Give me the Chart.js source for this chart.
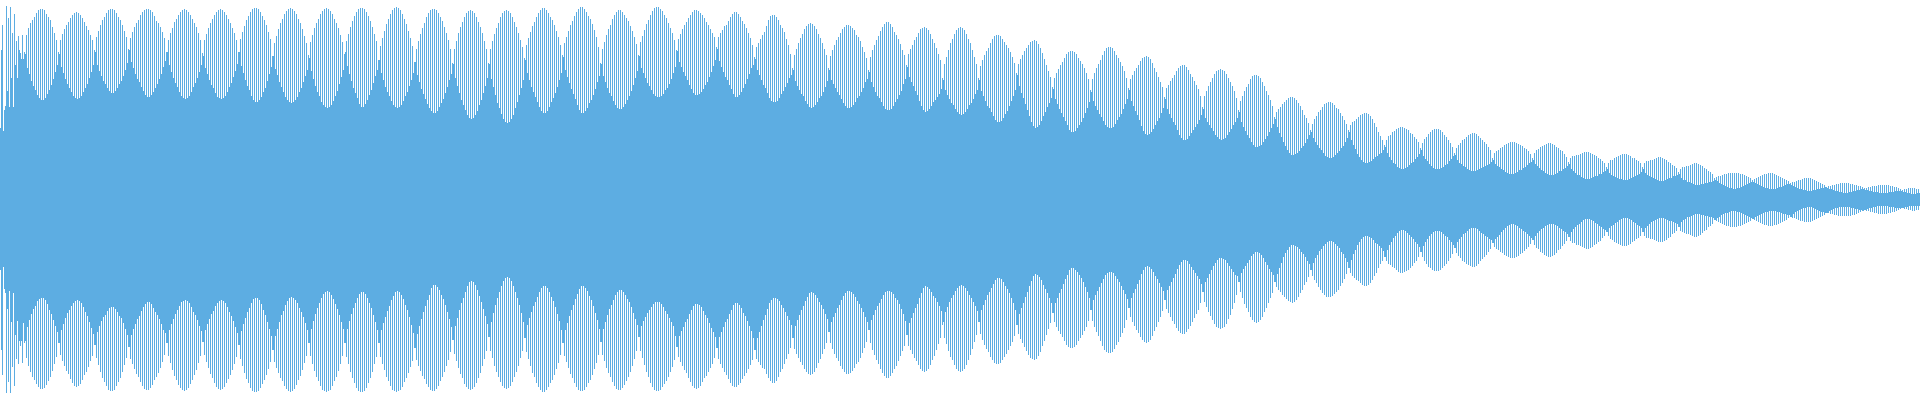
<!DOCTYPE html>
<html>
<head>
<meta charset="utf-8">
<style>html,body{margin:0;padding:0;background:#fff}canvas{display:block}</style>
<script src="https://cdn.jsdelivr.net/npm/chart.js@4"></script>
</head>
<body>
<canvas id="c" width="1920" height="400"></canvas>
<script>
const upperPeaks=[72,175,90,194,182,193,167,186,159,164,147,165,
148,165,172,177,180,183,187,190,191,191,190,186,183,180,173,167,160,
148,160,166,171,175,178,182,185,187,188,187,185,182,178,174,170,165,160,
150,163,169,175,180,183,187,190,191,191,190,187,183,180,175,169,163,
151,162,168,173,177,180,185,188,190,191,191,190,188,184,179,177,173,168,162,
148,160,167,172,178,181,185,188,190,191,190,188,185,181,177,173,167,160,
147,160,166,172,177,181,185,188,190,191,190,188,185,181,177,172,167,160,
148,161,168,174,180,184,188,191,192,192,191,188,184,180,175,168,161,
144,157,164,171,177,181,186,189,191,192,191,189,186,181,177,171,164,157,
145,158,165,172,177,181,186,189,191,192,191,189,186,181,177,172,165,158,
146,159,166,173,179,184,188,191,192,192,191,188,184,179,173,166,159,
140,154,162,169,176,181,186,190,192,193,192,190,186,181,176,169,162,154,
138,151,159,166,172,177,183,187,190,191,191,190,187,183,179,173,167,160,151,
137,151,159,167,173,178,183,187,189,190,189,187,183,178,173,167,159,151,
137,151,159,166,172,177,183,187,189,190,189,187,183,178,173,167,160,153,
142,155,162,168,174,178,183,187,190,192,192,190,187,183,180,175,169,163,155,
145,157,163,169,175,179,184,188,191,193,193,191,188,184,181,176,170,163,153,
137,151,158,165,171,175,181,185,188,190,190,188,185,182,179,174,169,163,156,
145,158,164,170,176,180,185,189,192,193,193,191,189,185,182,177,172,167,160,
150,161,166,171,175,178,182,185,188,190,190,189,187,185,182,178,175,171,167,163,
153,163,167,170,174,175,179,183,186,188,188,186,183,179,176,172,167,162,155,
143,153,157,161,165,168,174,180,184,185,185,183,180,175,172,168,161,155,146,
132,145,151,157,162,166,171,174,176,177,176,174,171,166,162,157,151,145,
132,144,150,155,160,163,167,171,173,175,175,174,172,170,165,163,159,153,148,142,
130,143,150,155,160,164,169,173,176,178,178,176,173,168,165,161,156,150,145,
135,146,151,155,160,163,167,171,172,173,172,170,166,161,157,152,146,140,
122,136,143,150,157,161,166,170,172,173,172,170,166,161,157,150,143,136,
122,134,140,145,149,152,157,161,164,165,165,164,161,158,155,152,148,143,137,
127,136,141,145,149,152,155,158,159,160,159,156,152,147,141,135,129,123,
113,122,127,131,135,138,142,146,148,149,149,148,146,142,139,136,132,127,121,
110,121,127,132,136,140,145,149,152,153,153,152,149,145,142,138,134,129,122,
112,121,125,129,132,135,139,142,143,144,143,141,137,132,128,123,118,113,
103,112,115,119,122,125,129,132,134,135,135,133,130,126,123,119,115,111,104,
93,104,109,114,118,122,126,129,130,131,130,129,126,122,118,114,109,102,
90,99,104,109,113,116,121,124,125,125,124,122,118,114,109,105,100,94,
83,88,91,93,96,98,100,102,103,103,102,100,97,94,90,85,82,77,
70,76,81,84,88,90,93,96,97,98,98,97,95,92,91,87,84,80,76,
70,75,78,79,81,83,85,86,87,87,86,84,81,77,73,68,64,60,
55,60,64,65,68,69,71,72,73,73,72,71,70,67,66,63,61,58,
52,57,61,63,66,68,70,71,71,71,70,68,65,63,60,57,53,
47,52,55,57,60,61,63,65,66,67,67,66,64,62,60,58,56,53,50,
42,47,49,50,52,53,55,56,57,58,58,58,57,56,55,54,52,51,49,46,
42,47,50,51,53,54,55,56,57,57,56,55,53,52,50,49,46,43,
38,42,44,44,45,45,46,47,48,48,48,47,46,45,44,42,41,39,37,
33,37,40,40,42,43,44,45,46,46,46,45,44,42,42,40,39,37,
33,37,39,39,40,40,41,42,43,43,42,41,40,38,37,35,34,32,
28,31,33,33,34,34,35,36,37,37,36,35,34,32,31,29,28,26,
22,23,24,24,25,26,26,27,27,27,27,27,27,26,26,25,24,23,22,
20,21,22,23,24,25,26,26,27,27,27,26,25,24,23,22,21,20,19,
17,18,18,19,20,20,21,22,22,22,22,21,20,19,18,17,16,15,
13,14,14,15,15,16,16,17,17,17,17,17,16,16,15,15,14,14,13,
12,12,13,13,14,14,14,15,15,15,15,15,15,14,14,13,13,12,11,
10,11,11,12,12,12,12,11,11,11,11,11,11];

const upperTroughs=[150,69,94,109,93,122,93,135,122,150,141,141,
146,132,126,119,114,110,105,102,100,100,102,106,110,115,121,128,135,
146,133,127,121,116,112,108,104,102,101,102,104,108,112,116,122,128,135,
148,135,129,124,119,116,112,109,107,107,109,112,116,119,124,130,137,
150,138,132,126,121,118,113,109,105,103,103,105,108,112,116,121,126,133,139,
148,135,128,122,117,113,108,104,102,101,102,104,108,113,117,122,128,135,
144,132,126,120,115,112,107,103,102,101,102,104,108,113,117,123,129,136,
148,134,127,120,114,110,104,100,98,98,100,103,108,112,119,126,133,
144,131,125,118,113,108,103,100,98,97,98,100,103,108,112,118,124,130,
142,129,121,114,108,104,98,95,93,92,93,95,99,104,109,116,123,130,
148,134,126,119,112,107,102,96,93,93,96,100,105,110,117,124,130,
140,127,120,113,108,104,99,95,93,92,93,95,99,104,108,114,120,127,
138,125,118,111,106,101,96,92,89,87,87,89,93,97,101,107,113,120,126,
136,122,114,107,100,95,90,85,82,81,82,85,89,95,100,107,114,122,
136,121,113,105,97,92,86,81,78,77,78,81,85,92,98,105,112,120,
140,127,120,113,108,103,98,93,89,87,87,89,93,98,102,107,113,120,127,
143,130,123,117,111,106,101,95,90,87,87,89,92,97,100,105,111,118,124,
136,124,118,112,107,104,99,95,92,91,91,93,96,100,104,109,115,122,129,
144,132,127,122,117,114,110,106,104,103,103,104,106,110,112,116,121,127,133,
149,138,133,128,124,120,115,111,107,105,105,106,108,111,115,118,123,128,134,140,
151,139,133,128,123,120,115,111,106,103,103,105,108,112,116,121,126,132,135,
141,130,125,120,115,112,107,102,99,98,98,99,102,106,109,113,117,122,125,
130,119,114,110,106,104,99,96,93,92,93,95,98,102,104,108,113,119,
130,120,116,112,108,105,101,97,94,92,92,93,95,98,102,104,108,112,118,121,
128,118,113,108,104,102,98,94,91,90,90,91,94,98,101,105,109,116,121,
133,123,118,114,109,105,99,94,90,88,89,91,94,98,100,103,106,111,
120,110,105,101,97,95,91,88,86,85,86,88,91,95,97,101,106,110,
120,109,104,99,94,92,88,84,80,78,78,79,82,86,89,94,99,104,110,
125,114,107,102,96,90,84,78,74,72,73,75,79,84,88,93,97,102,
111,101,96,91,87,83,79,75,70,68,68,69,72,75,78,82,87,92,98,
108,99,94,90,86,83,79,75,73,72,72,73,76,80,83,86,91,96,101,
110,99,94,89,85,80,74,69,66,65,66,68,71,75,79,82,87,92,
101,91,86,82,78,75,70,65,62,60,60,61,64,67,70,73,76,80,85,
91,82,78,75,72,69,65,63,61,60,61,62,65,68,71,75,78,82,
88,78,73,69,65,62,58,55,53,53,54,55,58,61,64,68,72,76,
81,73,67,63,58,54,50,47,45,45,46,47,49,52,54,57,61,65,
68,62,58,55,52,50,47,44,43,42,42,43,45,47,49,52,54,58,62,
68,60,55,51,46,43,40,38,37,37,38,39,41,43,44,46,47,50,
53,47,43,40,37,36,33,32,31,31,32,33,35,37,38,41,43,46,
50,44,41,39,36,34,32,31,31,31,32,33,35,36,39,41,44,
45,40,37,36,34,33,31,30,29,29,29,30,31,32,33,34,35,36,38,
40,36,34,33,31,30,28,27,26,26,26,27,28,30,30,32,33,35,37,38,
40,36,34,32,30,29,27,26,25,25,25,26,27,29,29,31,32,34,
36,31,29,27,25,25,23,22,21,21,21,22,23,24,24,26,26,28,29,
31,27,25,24,23,22,21,21,20,20,20,21,22,23,24,25,26,28,
31,27,25,24,23,22,21,20,19,19,19,20,21,22,22,24,24,25,
26,22,20,20,18,18,17,16,15,15,15,16,16,17,17,18,18,19,
20,19,17,16,15,14,13,12,12,11,11,12,12,13,14,15,16,17,18,
18,17,16,15,14,13,12,12,11,11,11,11,12,13,13,14,15,16,16,
15,14,13,12,11,11,10,10,9,9,9,10,10,11,11,12,12,13,
12,11,11,10,9,9,8,8,7,7,7,8,8,9,9,10,10,11,11,
10,10,9,9,8,8,8,7,7,7,7,7,8,8,8,9,9,9,9,
8,8,7,7,6,6,6,7,7,7,7,7,7];

const lowerPeaks=[70,175,89,193,182,193,167,186,159,164,146,163,
143,158,166,172,177,180,184,187,189,189,188,185,181,177,171,164,157,
143,155,161,166,171,174,179,183,186,187,186,184,180,175,172,167,161,156,
145,158,165,172,178,182,186,190,191,191,190,186,182,178,172,165,158,
147,159,164,169,174,177,182,186,189,190,190,188,185,180,177,173,168,162,155,
143,156,163,170,176,180,185,188,190,191,190,188,184,180,175,170,163,156,
142,155,162,168,174,178,183,187,189,190,189,187,183,179,175,170,164,157,
145,159,166,173,179,183,188,191,192,192,191,188,184,180,175,169,162,
150,162,168,173,178,181,186,189,191,192,191,189,185,180,176,170,163,156,
143,156,164,171,177,181,186,190,191,192,191,190,186,181,177,171,164,156,
143,157,164,172,178,183,188,191,192,192,191,188,183,178,172,164,157,
143,157,164,170,177,181,186,190,191,192,191,190,187,182,178,173,167,161,
148,160,166,171,176,179,184,187,190,191,191,189,186,181,177,172,166,160,152,
140,154,161,168,174,178,184,187,189,190,189,187,183,178,173,166,159,151,
137,151,158,166,172,177,182,186,188,189,188,186,182,177,172,166,158,151,
138,152,159,166,173,177,183,187,190,192,192,190,187,183,180,175,169,163,155,
143,156,162,168,174,178,183,187,190,191,191,190,187,183,180,175,169,163,155,
142,155,161,168,173,177,182,186,189,190,190,188,185,181,177,172,166,159,151,
137,151,158,165,172,177,183,187,190,191,191,190,187,184,181,177,172,167,160,
147,157,162,166,170,173,178,182,186,188,189,188,186,182,178,176,172,168,164,158,
148,159,164,168,172,175,179,183,186,187,187,185,183,179,176,173,169,165,160,
150,159,162,165,168,169,174,178,181,183,183,181,177,172,169,164,159,154,148,
138,149,154,158,162,165,169,172,174,175,174,172,168,163,159,154,149,143,
132,143,149,154,158,161,166,169,172,174,174,173,171,168,164,162,158,153,148,142,
130,143,150,155,160,164,169,173,176,178,178,176,173,169,166,161,156,151,146,
135,146,150,154,158,161,165,169,171,172,171,169,165,160,156,150,144,138,
125,138,144,151,157,160,165,169,171,172,171,169,165,160,155,149,142,135,
122,134,140,145,149,152,157,160,163,164,164,163,160,157,154,150,146,142,136,
125,134,139,143,147,151,155,158,159,160,159,156,152,146,141,135,129,123,
113,122,127,131,134,137,141,145,147,148,148,147,145,141,138,135,131,127,121,
110,121,127,132,136,141,146,150,152,153,153,152,149,145,142,137,133,128,120,
108,117,122,126,130,133,137,140,142,143,142,140,136,131,127,122,117,111,
100,109,113,117,121,124,128,131,133,134,134,132,129,126,122,118,114,110,103,
92,102,107,112,116,120,124,127,128,129,128,127,124,119,115,109,103,95,
82,92,98,104,108,112,117,120,122,123,122,120,117,112,108,103,98,93,
82,87,90,92,95,97,99,101,102,103,102,100,97,93,90,85,82,77,
70,76,80,83,87,90,93,95,97,97,97,96,94,92,90,86,83,79,74,
68,73,76,78,80,81,83,85,86,86,85,83,80,76,73,68,64,61,
57,61,64,65,67,68,70,72,73,73,72,71,70,68,66,63,61,57,
52,57,61,64,67,68,70,71,71,71,70,68,66,64,61,58,54,
48,53,56,58,61,62,64,65,66,67,67,66,64,61,59,57,55,52,49,
43,47,49,50,52,53,55,56,57,58,58,58,57,56,54,53,51,49,47,44,
40,45,48,49,52,53,55,56,57,57,56,55,53,50,49,46,44,41,
37,41,43,43,45,45,46,47,48,49,49,48,47,45,44,42,41,38,36,
32,36,39,40,42,43,44,45,46,46,46,45,44,42,41,39,38,36,
32,36,38,38,39,39,40,41,42,42,42,41,40,38,37,34,33,31,
27,31,32,33,34,34,35,36,37,37,36,35,33,31,30,27,26,24,
20,21,22,23,24,25,26,26,27,27,27,27,26,26,25,24,23,22,21,
19,20,21,22,23,24,25,25,26,26,26,25,25,24,23,22,21,20,18,
17,18,18,19,20,21,21,22,22,22,22,21,20,19,18,17,16,15,
13,13,14,14,15,15,16,16,16,16,16,16,16,15,15,14,13,12,11,
10,11,11,12,12,13,13,14,14,14,14,14,13,13,12,12,11,10,9,
8,9,9,10,10,11,11,10,10,10,10,10,10];

const lowerTroughs=[150,67,93,109,91,122,93,135,121,141,141,123,
141,127,120,114,109,106,101,99,98,98,100,104,110,114,120,126,132,
143,130,124,118,113,110,106,103,101,100,101,103,107,112,116,122,128,134,
145,132,126,121,117,115,111,108,107,107,109,112,116,118,123,129,135,
147,135,129,124,119,116,111,107,104,102,102,104,108,112,115,119,124,130,133,
143,130,124,119,114,110,106,102,101,100,101,103,107,112,115,120,126,131,
142,130,124,119,114,111,106,103,101,100,101,103,107,112,116,121,127,133,
145,131,124,118,112,108,103,99,98,98,100,104,110,115,122,129,136,
150,136,129,122,115,111,105,101,98,97,98,100,103,108,112,117,123,130,
143,129,121,114,108,103,98,94,92,91,92,95,99,104,109,115,122,129,
143,129,121,114,108,103,98,94,92,92,94,98,103,108,115,122,130,
143,130,123,117,111,106,100,96,92,91,92,95,99,105,110,117,125,133,
148,134,126,119,112,106,100,95,88,85,85,87,90,95,99,105,112,119,127,
140,126,118,110,103,98,92,86,82,81,82,85,90,96,102,109,116,124,
137,122,113,105,98,92,86,81,78,77,78,81,86,92,98,105,113,122,
138,125,118,112,106,102,97,92,88,86,86,88,92,97,101,107,114,121,130,
143,130,123,116,110,105,99,94,89,86,86,88,91,96,100,106,113,120,129,
142,129,122,115,109,105,100,95,92,90,90,92,95,99,102,107,113,119,125,
137,126,121,117,113,110,107,104,102,102,102,104,107,111,114,118,122,126,136,
147,136,131,127,122,119,114,110,106,104,104,105,107,111,115,118,123,128,132,137,
148,137,132,127,122,119,114,110,105,103,103,105,108,113,116,121,126,131,138,
150,138,132,126,120,115,109,103,100,98,98,99,101,105,108,112,116,120,125,
138,126,120,115,110,106,101,97,93,92,93,95,98,102,105,109,114,119,
132,122,117,113,108,105,100,96,93,91,91,92,94,97,101,104,108,112,117,122,
130,120,115,110,106,103,99,95,92,91,91,92,94,98,100,104,109,114,121,
135,123,118,113,108,104,98,93,88,86,87,89,92,96,98,102,106,111,
122,112,107,102,98,95,91,88,86,85,86,88,91,95,98,102,106,111,
122,110,105,100,95,92,88,84,80,78,78,79,82,86,89,93,98,103,110,
125,114,108,103,97,92,86,81,76,74,75,77,80,85,89,93,98,103,
113,103,98,93,89,84,79,75,70,68,68,70,72,75,78,82,87,92,98,
110,100,95,91,87,83,79,75,73,72,72,73,76,79,82,86,90,94,99,
108,98,93,89,84,80,74,70,67,66,67,69,72,76,79,83,87,91,
100,90,86,82,78,74,69,65,62,60,60,61,64,67,70,73,76,79,84,
92,82,78,74,70,66,63,60,58,58,59,60,63,66,69,72,75,76,
82,73,69,66,63,60,56,54,52,52,53,55,58,62,65,69,72,75,
82,74,68,63,57,53,50,47,45,45,46,47,49,52,54,57,61,64,
70,63,58,55,51,49,46,44,42,41,41,42,44,46,48,52,54,58,62,
68,60,54,50,45,42,39,37,36,36,37,38,40,43,44,46,48,51,
57,50,45,42,38,36,33,31,30,30,31,33,35,37,39,42,44,47,
52,46,42,39,36,34,32,31,31,31,32,34,36,37,40,42,45,
48,42,39,37,34,33,31,29,28,28,28,29,31,33,34,36,37,39,40,
43,39,37,35,32,30,28,26,25,24,24,25,26,28,29,31,32,34,36,38,
40,36,33,31,29,28,26,25,24,24,24,25,26,28,29,31,32,34,
37,32,29,27,25,24,22,20,19,19,19,20,21,23,24,26,27,29,30,
32,28,26,25,23,22,20,19,18,18,18,19,20,22,23,25,26,28,
32,28,26,24,22,21,20,19,18,18,18,19,20,21,21,22,23,24,
27,22,20,19,17,17,16,15,14,14,14,15,15,16,16,17,17,18,
20,18,17,15,14,13,13,12,11,11,11,12,12,13,14,15,16,17,18,
19,17,16,15,14,13,12,12,11,11,11,11,12,12,13,14,14,15,15,
17,14,12,11,10,9,8,8,7,7,7,8,9,10,11,12,12,13,
13,11,10,9,8,8,7,7,7,7,7,7,8,8,9,9,10,10,11,
10,9,8,8,7,7,6,6,6,6,6,6,7,7,7,8,8,8,8,
8,7,7,6,6,6,6,6,6,6,6,6,6];

const sampleCount = 1920;
const labels = [], spans = [];
for (let i = 0; i < sampleCount; i++) {
  labels.push(String(i));
  const k = Math.floor(i / 2);
  const up = i % 2 === 0 ? upperPeaks[k] : upperTroughs[k];
  const low = i % 2 === 0 ? lowerPeaks[k] : lowerTroughs[k];
  spans.push(up === undefined || low === undefined ? null : [-low, up]);
}
new Chart(document.getElementById('c'), {
  type: 'bar',
  data: { labels, datasets: [{ data: spans, backgroundColor: '#5dade2', borderWidth: 0, inflateAmount: 0, barPercentage: 1, categoryPercentage: 1 }] },
  options: {
    responsive: false, animation: false,
    layout: { padding: 0 },
    plugins: { legend: { display: false }, tooltip: { enabled: false } },
    scales: {
      x: { display: false },
      y: { display: false, min: -200, max: 200 }
    }
  }
});
</script>
</body>
</html>
